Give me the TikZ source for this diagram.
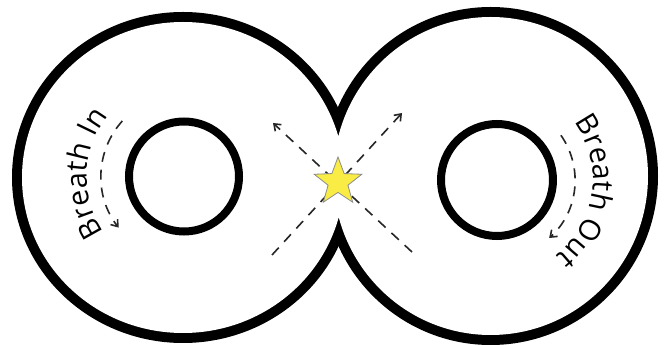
\documentclass[tikz,border=0pt]{standalone}
\usepackage{fontspec}
\newfontfamily\breathfont{Open Sans}
\usetikzlibrary{arrows.meta, shapes.geometric, decorations.text, calc}

\definecolor{starfill}{HTML}{F8EC45}

\begin{document}
\begin{tikzpicture}[
    x=1pt, y=1pt,
    lobe/.style={draw=black, line width=20pt},
    ring/.style={draw=black, line width=8pt},
    guide/.style={
        dash pattern=on 10pt off 8pt, line width=1.6pt, draw=black!85,
        -{Straight Barb[length=6pt,width=9pt]}
    },
    midstar/.style={
        star, star points=5, star point ratio=2.4, minimum size=50pt,
        inner sep=0pt, fill=starfill, draw=black!45, line width=0.8pt
    },
    label/.style={
        decorate,
        decoration={text along path, text align=center}
    },
]
\useasboundingbox (0,0) rectangle (670,345);

% Outer figure eight
\coordinate (lc) at (183,167.5);
\coordinate (rc) at (490.7,169);
\draw[lobe] (lc) ellipse [x radius=161, y radius=155.5];
\draw[lobe] (rc) ellipse [x radius=157.3, y radius=159];
\fill[white] (lc) ellipse [x radius=161, y radius=155.5]
             (rc) ellipse [x radius=157.3, y radius=159];

% Inner circles
\coordinate (inl) at (184,168.5);
\coordinate (inr) at (497,165);
\draw[ring] (inl) circle [radius=55];
\draw[ring] (inr) circle [radius=56];

% Crossing arrows
\coordinate (a1) at (272,90);
\coordinate (a2) at (402,232);
\coordinate (b1) at (412,93);
\coordinate (b2) at (273,222);
\draw[guide] (a1) -- (a2);
\draw[guide] (b1) -- (b2);

\node[midstar] (sun) at (338,163) {};

% Breath arcs
\draw[guide] ($(inl)+(138:83)$) arc [start angle=138, end angle=218, radius=83];
\draw[guide] ($(inr)+(35:78)$) arc [start angle=35, end angle=-48, radius=78];

\path[label, decoration={text={|\breathfont\fontsize{29}{32}\selectfont|Breath In}}]
    ($(inl)+(222:97)$) arc [start angle=222, end angle=134, radius=97];
\path[label, decoration={text={|\breathfont\fontsize{29}{32}\selectfont|Breath Out}}]
    ($(inr)+(40:96)$) arc [start angle=40, end angle=-55, radius=96];

\end{tikzpicture}
\end{document}
